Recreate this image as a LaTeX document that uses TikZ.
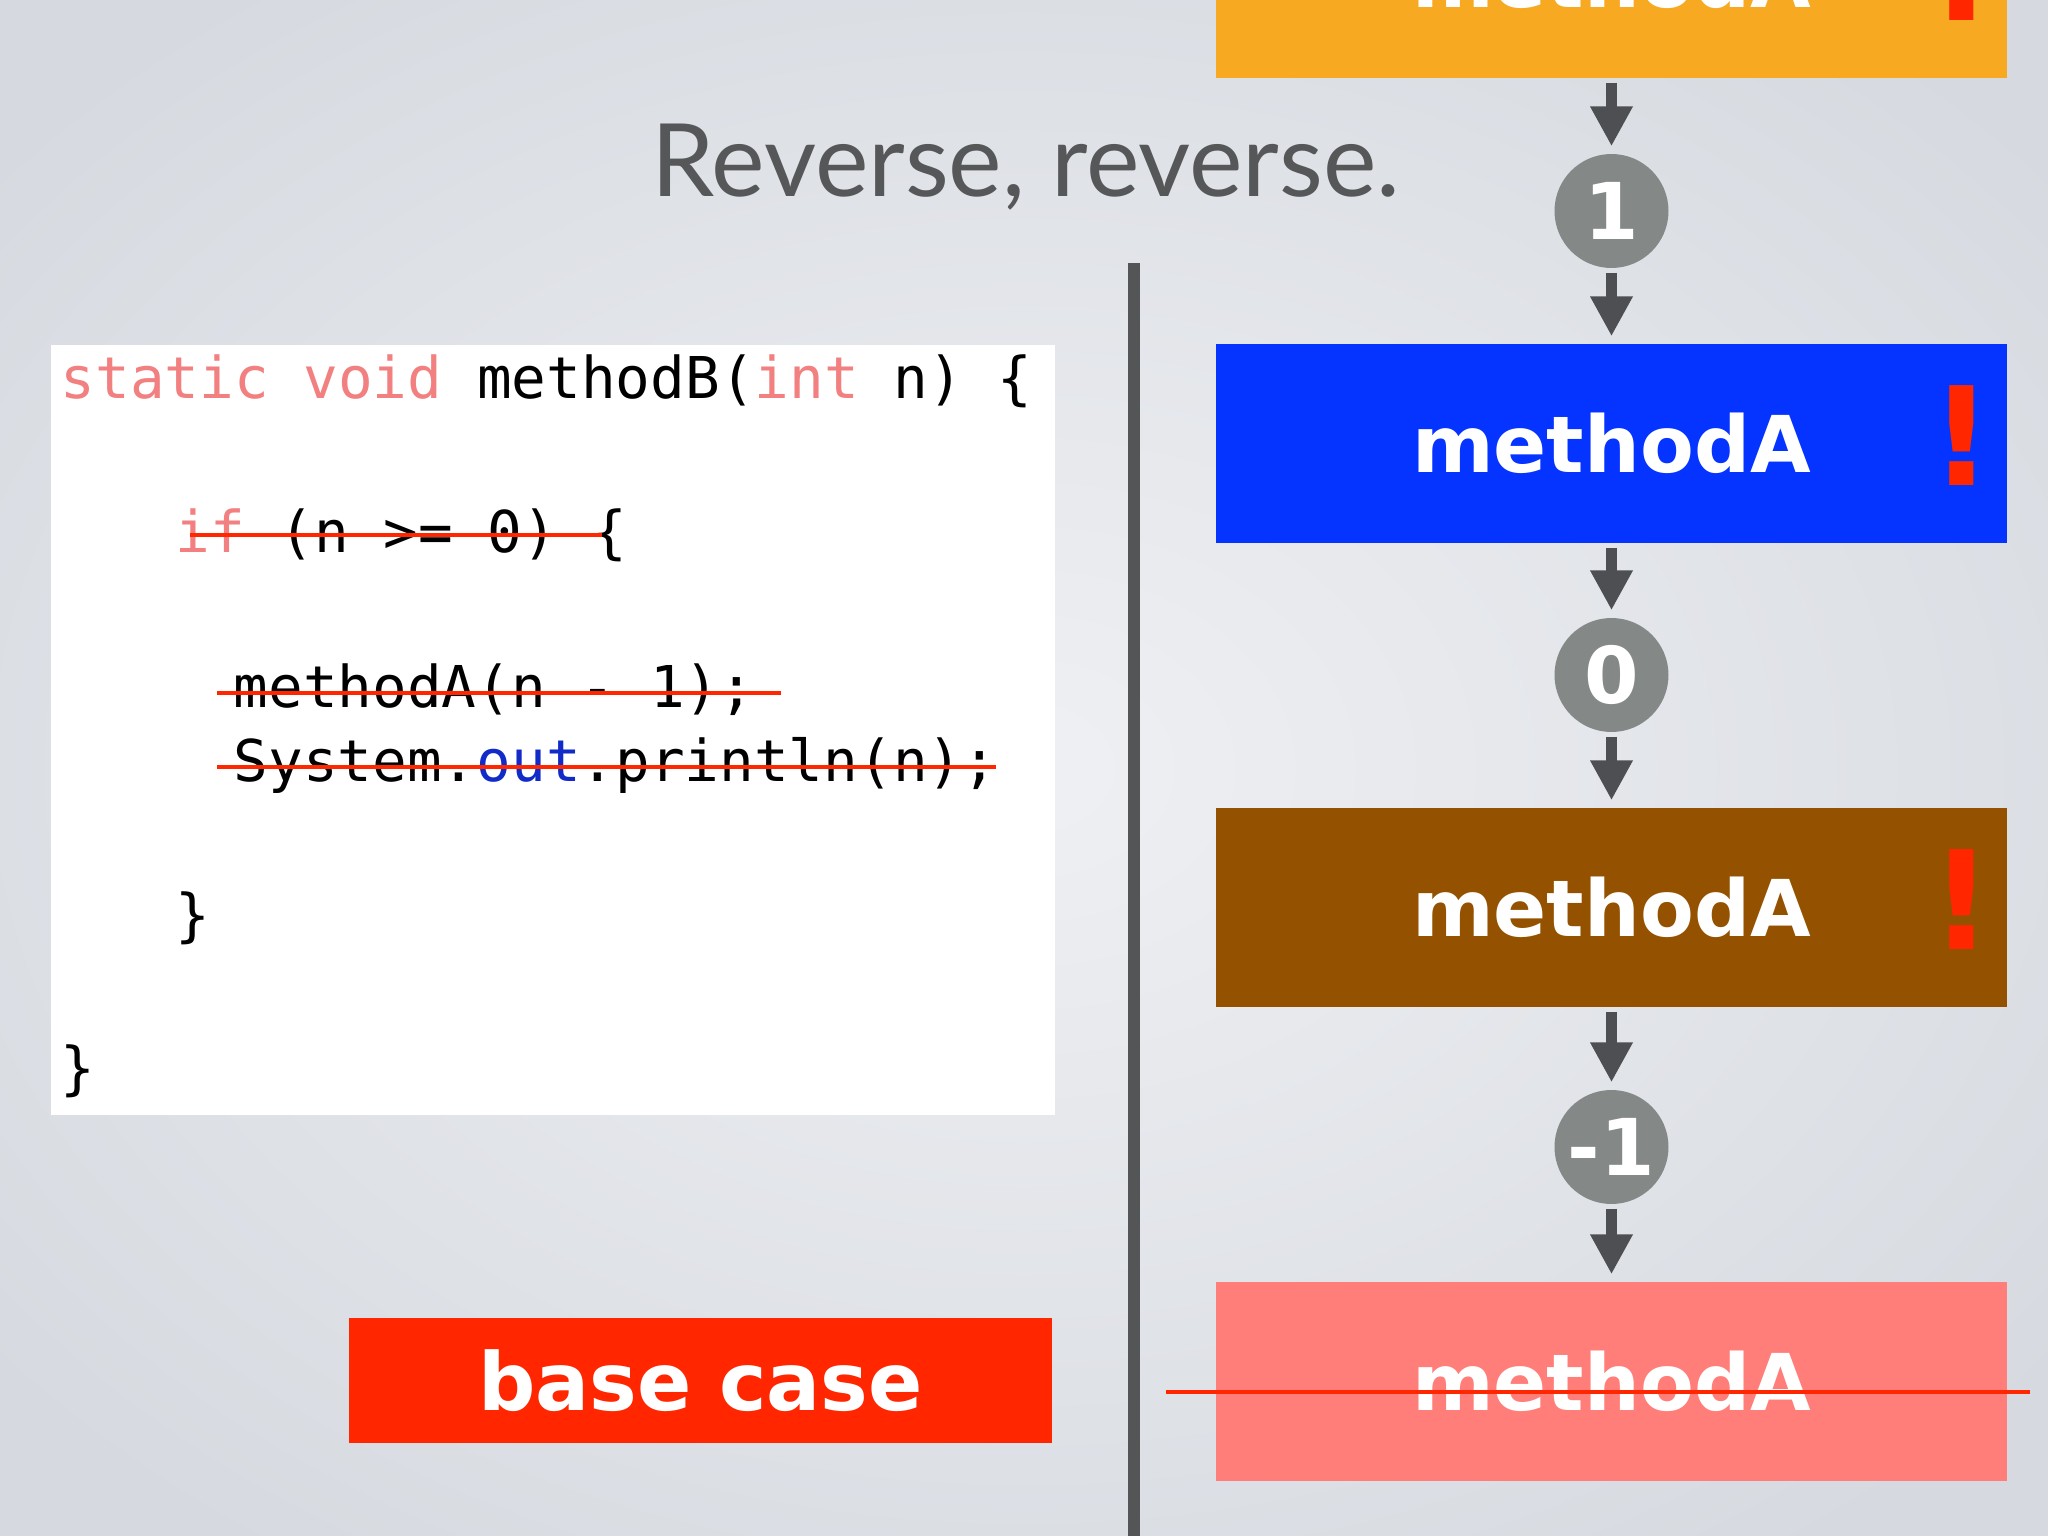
\documentclass[tikz,border=0pt]{standalone}
\usepackage{fontspec}
\setmainfont{Lato}
\newfontfamily\boxfont{DejaVu Sans}
\newfontfamily\codefont{DejaVu Sans Mono}
\usetikzlibrary{arrows.meta,positioning,calc}
\definecolor{bgin}{RGB}{239,240,243}
\definecolor{bgout}{RGB}{214,218,224}
\definecolor{titlegray}{RGB}{86,87,89}
\definecolor{divgray}{RGB}{84,85,87}
\definecolor{arrgray}{RGB}{77,79,82}
\definecolor{cntgray}{RGB}{132,137,136}
\definecolor{exred}{RGB}{255,38,0}
\definecolor{kw}{RGB}{242,128,128}
\definecolor{fld}{RGB}{18,42,200}
\definecolor{orangeA}{RGB}{247,169,34}
\definecolor{blueA}{RGB}{5,51,255}
\definecolor{brownA}{RGB}{148,82,0}
\definecolor{pinkA}{RGB}{255,126,121}

\begin{document}
\begin{tikzpicture}[>={Triangle[length=4mm,width=4mm]},
  cbox/.style={fill=white,inner sep=0,minimum width=10.04cm,minimum height=7.70cm,anchor=north west},
  cl/.style={anchor=base west,inner sep=0,font=\codefont\fontsize{16.4}{20}\selectfont},
  mbox/.style={minimum width=7.91cm,minimum height=1.99cm,inner sep=0,text=white,font=\boxfont\bfseries\fontsize{22.3}{26}\selectfont},
  ex/.style={text=exred,inner sep=0,font=\boxfont\bfseries\fontsize{39}{40}\selectfont},
  cnt/.style={circle,fill=cntgray,minimum size=1.14cm,inner sep=0,text=white,font=\boxfont\bfseries\fontsize{22.3}{26}\selectfont},
  bc/.style={fill=exred,minimum width=7.03cm,minimum height=1.25cm,inner sep=0,text=white,font=\boxfont\bfseries\fontsize{22.8}{26}\selectfont},
  a/.style={->,line width=1.1mm,draw=arrgray,shorten <=0.04cm,shorten >=0.07cm},
  strk/.style={draw=exred,line width=0.45mm}]
  \useasboundingbox (0,0) rectangle (20.48,-15.36);
  \clip (0,0) rectangle (20.48,-15.36);
  \shade[inner color=bgin,outer color=bgout] (-3,2) rectangle (23.48,-17.36);

  % title and divider
  \node[anchor=base,inner sep=0,text=titlegray,font=\fontsize{28.8}{32}\selectfont] (title) at (10.26,-1.97) {Reverse, reverse.};
  \fill[divgray] (11.28,-2.63) rectangle (11.40,-15.36);

  % code
  \node[cbox] (code) at (0.50,-3.44) {};
  \node[cl] (l1) at (0.60,-3.99) {\textcolor{kw}{static void} methodB(\textcolor{kw}{int} n) \{};
  \node[cl] (l2) at (1.75,-5.52) {\textcolor{kw}{if} (n >= 0) \{};
  \node[cl] (l3) at (2.33,-7.08) {methodA(n - 1);};
  \node[cl] (l4) at (2.33,-7.82) {System.\textcolor{fld}{out}.println(n);};
  \node[cl] (l5) at (1.75,-9.35) {\}};
  \node[cl] (l6) at (0.60,-10.88) {\}};
  \draw[strk] (1.90,-5.35) -- (6.02,-5.35);
  \draw[strk] (2.17,-6.93) -- (7.81,-6.93);
  \draw[strk] (2.17,-7.67) -- (9.96,-7.67);

  \node[bc] (base) at (7.005,-13.805) {base case};

  % call chain
  \node[mbox,fill=orangeA] (mA0) at (16.115,0.215) {methodA};
  \node[cnt] (c1) at (16.115,-2.11) {1};
  \node[mbox,fill=blueA] (mA1) at (16.115,-4.435) {methodA};
  \node[cnt] (c0) at (16.115,-6.75) {0};
  \node[mbox,fill=brownA] (mA2) at (16.115,-9.075) {methodA};
  \node[cnt] (cm) at (16.115,-11.47) {-1};
  \node[mbox,fill=pinkA] (mA3) at (16.115,-13.815) {methodA};
  \node[ex] (x0) at ($(mA0.center)+(3.50,0.08)$) {!};
  \node[ex] (x1) at ($(mA1.center)+(3.50,0.08)$) {!};
  \node[ex] (x2) at ($(mA2.center)+(3.50,0.08)$) {!};
  \draw[strk] (11.66,-13.92) -- (20.30,-13.92);

  \draw[a] (mA0) -- (c1); \draw[a] (c1) -- (mA1);
  \draw[a] (mA1) -- (c0); \draw[a] (c0) -- (mA2);
  \draw[a] (mA2) -- (cm); \draw[a] (cm) -- (mA3);
\end{tikzpicture}
\end{document}
